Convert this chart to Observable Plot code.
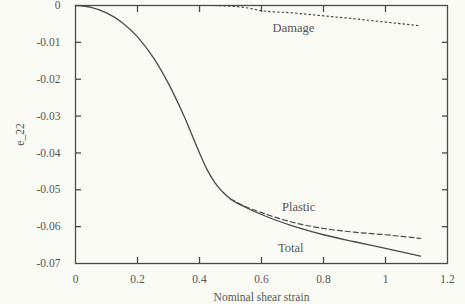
<!DOCTYPE html>
<html>
<head>
<meta charset="utf-8">
<script src="https://cdn.jsdelivr.net/npm/d3@7"></script>
<script src="https://cdn.jsdelivr.net/npm/@observablehq/plot@0.6"></script>
<style>
  html, body { margin: 0; padding: 0; background: #fbfbf6; }
  #chart svg { display: block; }
</style>
</head>
<body>
<div id="chart"></div>
<script>
// Series readings (x = nominal shear strain, y = e_22)
const totalX   = [0, 0.05, 0.1, 0.15, 0.2, 0.25, 0.3, 0.35, 0.4, 0.425, 0.45, 0.475, 0.5, 0.55, 0.6, 0.7, 0.8, 0.9, 1.0, 1.113];
const totalY   = [0, -0.0005, -0.002, -0.0046, -0.0085, -0.014, -0.0212, -0.03, -0.040, -0.0446, -0.0481, -0.0506, -0.0525, -0.0548, -0.0567, -0.0598, -0.0622, -0.0641, -0.0659, -0.068];
const plasticX = [0.5, 0.55, 0.6, 0.7, 0.8, 0.9, 1.0, 1.113];
const plasticY = [-0.0525, -0.0546, -0.0562, -0.0588, -0.0605, -0.0615, -0.0622, -0.0632];
const damageX  = [0.45, 0.55, 0.6, 0.7, 0.8, 0.9, 1.0, 1.113];
const damageY  = [0, -0.0006, -0.0014, -0.002, -0.0028, -0.0036, -0.0045, -0.0055];

const xTicks = [0, 0.2, 0.4, 0.6, 0.8, 1, 1.2];
const yTicks = [0, -0.01, -0.02, -0.03, -0.04, -0.05, -0.06, -0.07];
const innerXTicks = [0.2, 0.4, 0.6, 0.8, 1];
const innerYTicks = [-0.01, -0.02, -0.03, -0.04, -0.05, -0.06];

const labelNames = ["Damage", "Plastic", "Total"];
const labelX = [0.703, 0.72, 0.694];
const labelY = [-0.0062, -0.0546, -0.0657];

const toRows = (xs, ys) => xs.map((x, i) => ({x, y: ys[i]}));
const total = toRows(totalX, totalY);
const plastic = toRows(plasticX, plasticY);
const damage = toRows(damageX, damageY);
const labels = labelNames.map((t, i) => ({t, x: labelX[i], y: labelY[i]}));

const ink = "#4a4a4a";
const textInk = "#555";

const chart = Plot.plot({
  width: 465,
  height: 304,
  marginLeft: 75,
  marginRight: 18,
  marginTop: 5,
  marginBottom: 41,
  style: {fontFamily: "'Liberation Serif', serif", fontSize: "11px", color: textInk, background: "transparent"},
  x: {domain: [0, 1.2]},
  y: {domain: [-0.07, 0]},
  marks: [
    Plot.frame({stroke: ink, strokeWidth: 1.3}),
    Plot.axisX({ticks: xTicks, tickSize: 0, tickPadding: 11, tickFormat: d => String(d),
      label: "Nominal shear strain", labelAnchor: "center", labelArrow: "none", labelOffset: 37, fontSize: 11.5}),
    Plot.axisX({ticks: innerXTicks, tickSize: -6, tickFormat: () => "", label: null, stroke: ink, strokeWidth: 1.3}),
    Plot.axisX({ticks: innerXTicks, anchor: "top", tickSize: -6, tickFormat: () => "", label: null, stroke: ink, strokeWidth: 1.3}),
    Plot.axisY({ticks: yTicks, tickSize: 0, tickPadding: 15, tickFormat: d => d === 0 ? "0" : d.toFixed(2),
      label: "e_22", labelAnchor: "center", labelArrow: "none", labelOffset: 60, fontSize: 11.5}),
    Plot.axisY({ticks: innerYTicks, tickSize: -6, tickFormat: () => "", label: null, stroke: ink, strokeWidth: 1.3}),
    Plot.axisY({ticks: innerYTicks, anchor: "right", tickSize: -6, tickFormat: () => "", label: null, stroke: ink, strokeWidth: 1.3}),
    Plot.line(total, {x: "x", y: "y", stroke: ink, strokeWidth: 1.3, curve: "monotone-x"}),
    Plot.line(plastic, {x: "x", y: "y", stroke: ink, strokeWidth: 1.2, strokeDasharray: "5,3", curve: "monotone-x"}),
    Plot.line(damage, {x: "x", y: "y", stroke: ink, strokeWidth: 1.2, strokeDasharray: "1.5,3", curve: "monotone-x"}),
    Plot.text(labels, {x: "x", y: "y", text: "t", fill: textInk, fontSize: 12.5})
  ]
});
document.getElementById("chart").appendChild(chart);
</script>
</body>
</html>
